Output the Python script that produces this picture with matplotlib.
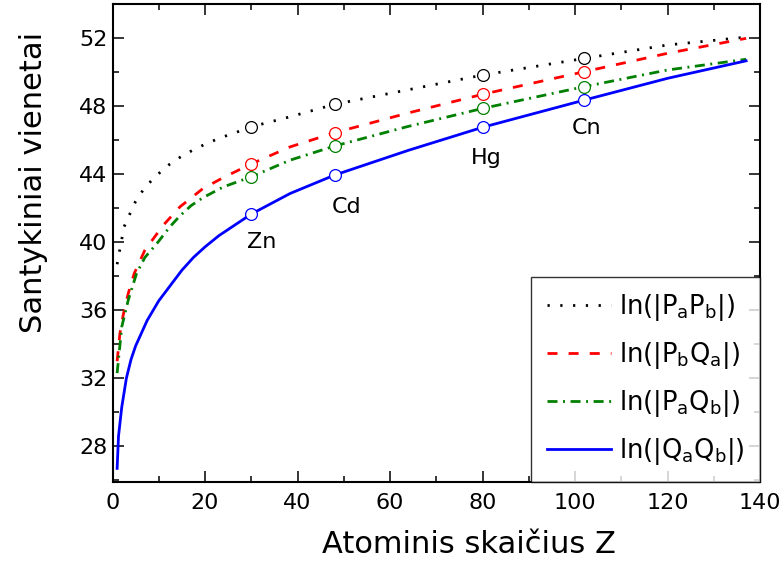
import matplotlib
matplotlib.use('Agg')
import matplotlib.pyplot as plt
from matplotlib.ticker import MultipleLocator

# Curves (Z, value)
z_papb = [1, 1.5, 2.5, 3.8, 5, 7, 9.6, 12.4, 15, 17.8, 20.7, 23.6, 26.5, 30, 38.4, 48, 63.6, 80, 102, 120, 137]
v_papb = [38.7, 39.45, 40.9, 41.69, 42.4, 43.22, 43.94, 44.59, 45.06, 45.47, 45.84, 46.16, 46.43, 46.78, 47.37, 48.1, 48.94, 49.82, 50.8, 51.59, 52.05]

z_pbqa = [1, 1.6, 2.3, 3.4, 4.7, 7, 11, 14.6, 19.6, 24, 30, 38.4, 48, 63.6, 80, 102, 120, 137]
v_pbqa = [33.0, 34.63, 35.7, 36.98, 38.16, 39.53, 41.0, 42.08, 43.16, 43.8, 44.6, 45.6, 46.43, 47.57, 48.69, 50.02, 51.1, 51.98]

z_paqb = [1, 2, 3.4, 5.2, 7, 9.6, 12.4, 14.6, 17, 19.6, 24, 30, 38.4, 48, 63.6, 80, 102, 120, 137]
v_paqb = [32.3, 35.02, 36.59, 38.16, 39.1, 39.92, 40.9, 41.55, 42.15, 42.62, 43.25, 43.84, 44.82, 45.65, 46.78, 47.86, 49.14, 50.12, 50.75]

z_qaqb = [1, 1.3, 2, 3, 4, 5, 7.5, 10, 12.5, 15, 17.5, 20, 23, 30, 38.4, 48, 64, 80, 102, 120, 137]
v_qaqb = [26.7, 28.6, 30.3, 32.0, 33.1, 33.9, 35.4, 36.55, 37.45, 38.35, 39.1, 39.72, 40.38, 41.65, 42.86, 43.94, 45.4, 46.75, 48.35, 49.63, 50.66]

# Marked elements
elem_names = ['Zn', 'Cd', 'Hg', 'Cn']
elem_z = [30, 48, 80, 102]
mark_papb = [46.78, 48.1, 49.82, 50.8]
mark_pbqa = [44.6, 46.43, 48.69, 50.02]
mark_paqb = [43.84, 45.65, 47.86, 49.14]
mark_qaqb = [41.65, 43.94, 46.75, 48.35]
label_pos = [(32.3, 40.0), (50.7, 42.06), (80.8, 44.94), (102.6, 46.7)]

fig = plt.figure(figsize=(7.84, 5.70), dpi=100)
ax = fig.add_axes([0.1435, 0.1544, 0.8259, 0.8386])

ax.plot(z_papb, v_papb, color='black', lw=2, dashes=(0.8, 3.8), label=r'$\mathregular{ln(|P_aP_b|)}$')
ax.plot(z_pbqa, v_pbqa, color='red', lw=2, dashes=(3.6, 4), label=r'$\mathregular{ln(|P_bQ_a|)}$')
ax.plot(z_paqb, v_paqb, color='green', lw=2, dashes=(3.6, 2, 0.7, 2), label=r'$\mathregular{ln(|P_aQ_b|)}$')
ax.plot(z_qaqb, v_qaqb, color='blue', lw=2, label=r'$\mathregular{ln(|Q_aQ_b|)}$')

for vals, c in [(mark_papb, 'black'), (mark_pbqa, 'red'), (mark_paqb, 'green'), (mark_qaqb, 'blue')]:
    ax.plot(elem_z, vals, 'o', ms=8.5, mfc='white', mec=c, mew=0.9, zorder=5)

for name, (x, y) in zip(elem_names, label_pos):
    ax.text(x, y, name, fontsize=16, ha='center', va='center')

ax.set_xlim(0, 140)
ax.set_ylim(25.9, 54)
ax.xaxis.set_major_locator(MultipleLocator(20))
ax.xaxis.set_minor_locator(MultipleLocator(10))
ax.yaxis.set_major_locator(MultipleLocator(4))
ax.yaxis.set_minor_locator(MultipleLocator(2))
ax.tick_params(which='both', direction='in', top=True, right=True, width=1.1, labelsize=16)
ax.tick_params(which='major', length=8)
ax.tick_params(which='minor', length=4)
ax.tick_params(axis='x', pad=8)
for s in ax.spines.values():
    s.set_linewidth(1.5)

ax.set_xlabel('Atominis skaičius Z', fontsize=22)
ax.set_ylabel('Santykiniai vienetai', fontsize=22)
ax.xaxis.set_label_coords(0.551, -0.1)
ax.yaxis.set_label_coords(-0.1, 0.626)

leg = ax.legend(loc='lower right', fontsize=18.5, borderaxespad=0, fancybox=False,
                edgecolor='black', handlelength=2.5, handletextpad=0.3, labelspacing=0.65,
                borderpad=0.6)
leg.get_frame().set_linewidth(1.0)

fig.savefig('out.png', dpi=100)
